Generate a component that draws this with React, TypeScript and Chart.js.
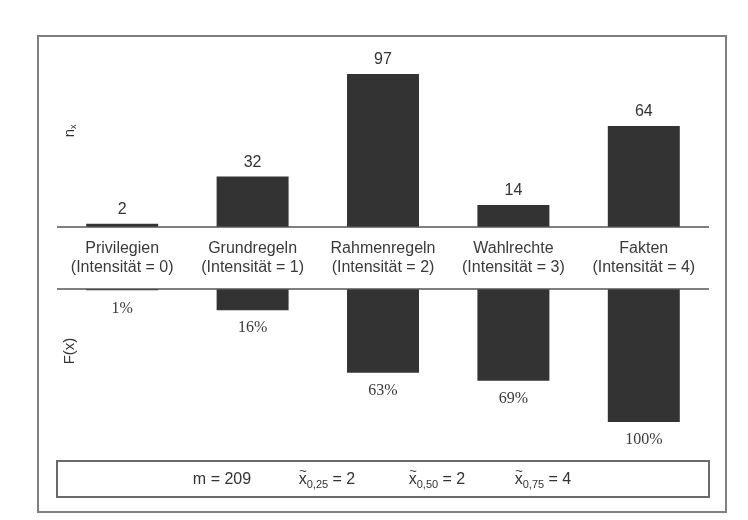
import React, { useEffect, useRef } from "react";
import { Chart, registerables } from "chart.js";

Chart.register(...registerables);

// ---- data ----
const categories = ["Privilegien", "Grundregeln", "Rahmenregeln", "Wahlrechte", "Fakten"];
const intensities = [0, 1, 2, 3, 4];
const counts = [2, 32, 97, 14, 64];
const cumulativePct = [1, 16, 63, 69, 100];
const statTexts = ["m = 209"];
const quantileSubs = ["0,25", "0,50", "0,75"];
const quantileValues = [2, 2, 4];

const SANS = "'Liberation Sans', Arial, sans-serif";
const SERIF = "'Liberation Serif', 'Times New Roman', serif";

// layout (pixels)
const TOP_PIX = 74;
const BASE_TOP = 227;
const BASE_BOT = 289;
const BOT_PIX = 422;

const topMax = Math.max(...counts);
const topMin = -((BOT_PIX - BASE_TOP) / (BASE_TOP - TOP_PIX)) * topMax;
const botMax = 100;
const botMin = -((BASE_BOT - TOP_PIX) / (BOT_PIX - BASE_BOT)) * botMax;

const overlay = {
  id: "overlay",
  beforeDraw(chart: any) {
    const ctx = chart.ctx;
    ctx.save();
    ctx.fillStyle = "#ffffff";
    ctx.fillRect(0, 0, chart.width, chart.height);
    ctx.restore();
  },
  afterDraw(chart: any) {
    const ctx = chart.ctx;
    const x = chart.scales.x;
    const yT = chart.scales.yTop;
    const yB = chart.scales.yBot;
    const area = chart.chartArea;
    const y0t = Math.round(yT.getPixelForValue(0));
    const y0b = Math.round(yB.getPixelForValue(0));
    ctx.save();

    // outer frame
    ctx.strokeStyle = "#808080";
    ctx.lineWidth = 2;
    ctx.strokeRect(38, 36, 688, 476);

    // baselines
    ctx.strokeStyle = "#555555";
    ctx.lineWidth = 1.5;
    ctx.beginPath();
    ctx.moveTo(area.left, y0t);
    ctx.lineTo(area.right, y0t);
    ctx.moveTo(area.left, y0b);
    ctx.lineTo(area.right, y0b);
    ctx.stroke();

    // bottom stat box
    ctx.strokeStyle = "#6a6a6a";
    ctx.lineWidth = 2;
    ctx.strokeRect(area.left, 461, area.right - area.left, 36);

    ctx.textAlign = "center";
    ctx.textBaseline = "middle";

    // value labels top
    ctx.fillStyle = "#333333";
    ctx.font = `16px ${SANS}`;
    counts.forEach((v, i) => {
      ctx.fillText(String(v), x.getPixelForValue(i), yT.getPixelForValue(v) - 14);
    });

    // category labels
    ctx.fillStyle = "#3a3a3a";
    const mid = (y0t + y0b) / 2;
    categories.forEach((c, i) => {
      const cx = x.getPixelForValue(i);
      ctx.fillText(c, cx, mid - 9);
      ctx.fillText(`(Intensität = ${intensities[i]})`, cx, mid + 10);
    });

    // cumulative labels bottom
    ctx.font = `16px ${SERIF}`;
    ctx.fillStyle = "#3a3a3a";
    cumulativePct.forEach((v, i) => {
      ctx.fillText(`${v}%`, x.getPixelForValue(i), yB.getPixelForValue(v) + 18);
    });

    // axis titles (rotated)
    ctx.fillStyle = "#333333";
    ctx.save();
    ctx.translate(70, 131);
    ctx.rotate(-Math.PI / 2);
    ctx.font = `15px ${SANS}`;
    ctx.textAlign = "right";
    ctx.fillText("n", 2, 0);
    ctx.font = `9px ${SANS}`;
    ctx.textAlign = "left";
    ctx.fillText("x", 2, 4);
    ctx.restore();

    ctx.save();
    ctx.translate(70, 351);
    ctx.rotate(-Math.PI / 2);
    ctx.font = `15px ${SANS}`;
    ctx.textAlign = "center";
    ctx.fillText("F(x)", 0, 0);
    ctx.restore();

    // stats text
    const ty = 480;
    ctx.fillStyle = "#333333";
    ctx.font = `16px ${SANS}`;
    ctx.textAlign = "center";
    ctx.fillText(statTexts[0], 222, ty);
    const qCenters = [327, 437, 543];
    quantileSubs.forEach((sub, i) => {
      const rest = ` = ${quantileValues[i]}`;
      ctx.font = `16px ${SANS}`;
      const wx = ctx.measureText("x").width;
      const wr = ctx.measureText(rest).width;
      ctx.font = `11px ${SANS}`;
      const ws = ctx.measureText(sub).width;
      const total = wx + ws + wr;
      let sx = qCenters[i] - total / 2;
      ctx.textAlign = "left";
      ctx.font = `16px ${SANS}`;
      ctx.fillText("x", sx, ty);
      // tilde above x
      ctx.font = `13px ${SANS}`;
      ctx.fillText("~", sx + 0.5, ty - 9);
      sx += wx;
      ctx.font = `11px ${SANS}`;
      ctx.fillText(sub, sx, ty + 5);
      sx += ws;
      ctx.font = `16px ${SANS}`;
      ctx.fillText(rest, sx, ty);
    });

    ctx.restore();
  },
};

export default function App() {
  const ref = useRef<HTMLCanvasElement | null>(null);
  useEffect(() => {
    if (!ref.current) return;
    const chart = new Chart(ref.current, {
      type: "bar",
      data: {
        labels: categories,
        datasets: [
          {
            label: "n_x",
            data: counts,
            yAxisID: "yTop",
            backgroundColor: "#333333",
            borderWidth: 0,
            grouped: false,
            barPercentage: 0.552,
            categoryPercentage: 1,
          },
          {
            label: "F(x)",
            data: cumulativePct,
            yAxisID: "yBot",
            backgroundColor: "#333333",
            borderWidth: 0,
            grouped: false,
            barPercentage: 0.552,
            categoryPercentage: 1,
          },
        ],
      },
      options: {
        responsive: false,
        maintainAspectRatio: false,
        animation: false,
        devicePixelRatio: 1,
        layout: { padding: { left: 57, right: 39, top: TOP_PIX, bottom: 520 - BOT_PIX } },
        plugins: { legend: { display: false }, tooltip: { enabled: false }, title: { display: false } },
        scales: {
          x: { type: "category", display: false, offset: true, grid: { display: false } },
          yTop: { type: "linear", display: false, min: topMin, max: topMax },
          yBot: { type: "linear", display: false, reverse: true, min: botMin, max: botMax },
        },
      },
      plugins: [overlay],
    });
    return () => chart.destroy();
  }, []);
  return (
    <div style={{ position: "fixed", left: 0, top: 0, width: 748, height: 520, background: "#fff" }}>
      <canvas ref={ref} width={748} height={520} style={{ display: "block", width: 748, height: 520 }} />
    </div>
  );
}
